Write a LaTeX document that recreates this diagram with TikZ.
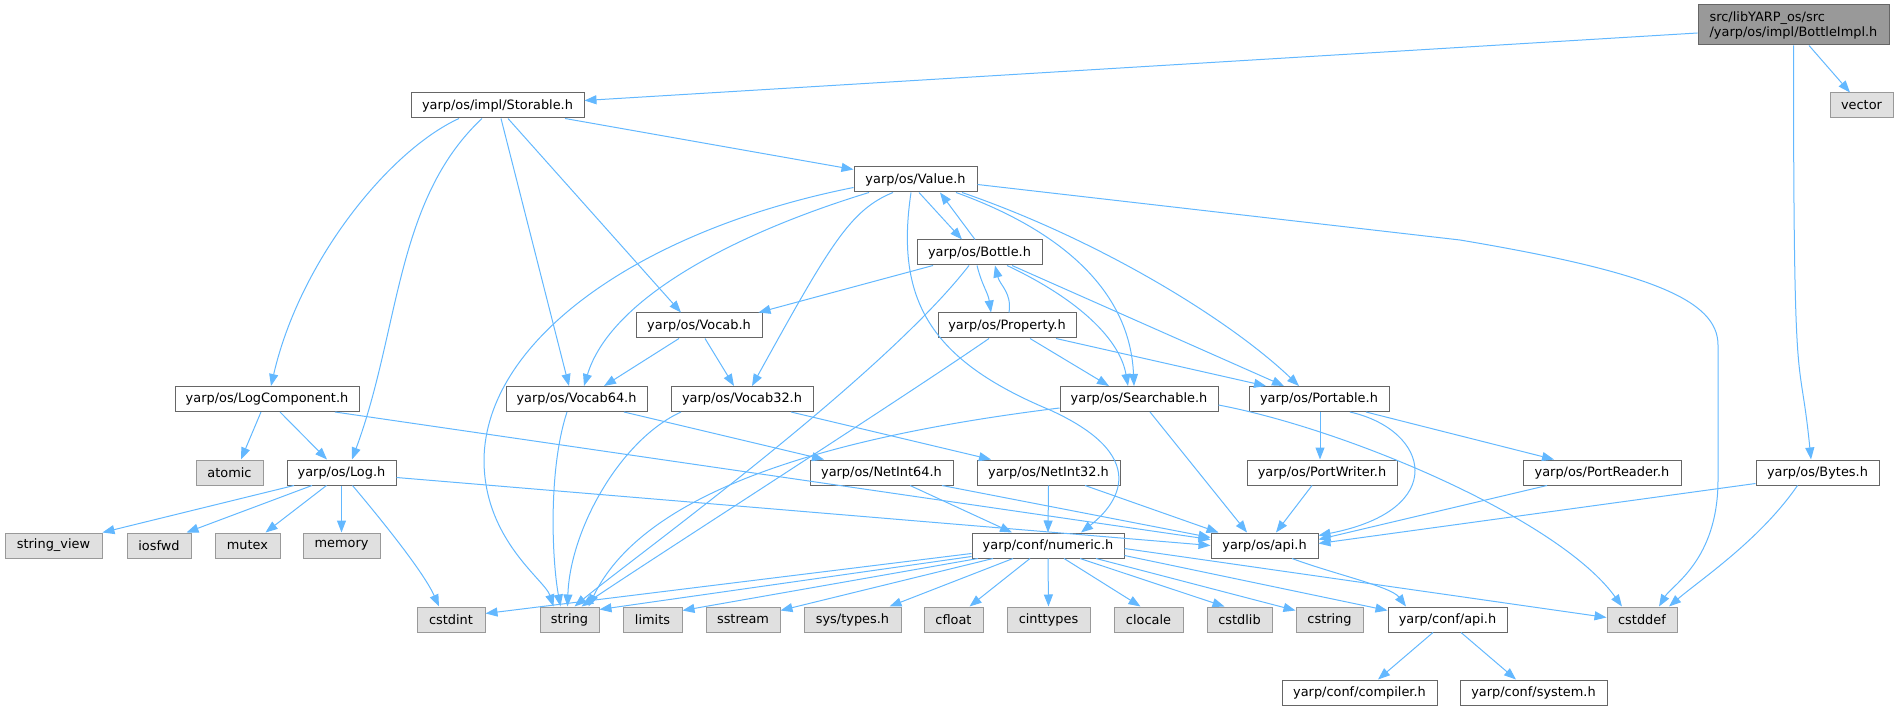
\documentclass[tikz,border=0pt]{standalone}
\usepackage{fontspec}
\setmainfont{DejaVu Sans}
\usetikzlibrary{calc,arrows.meta}
\definecolor{incblue}{HTML}{63B8FF}
\definecolor{grey40}{HTML}{666666}
\definecolor{grey60}{HTML}{999999}
\definecolor{grey88}{HTML}{E0E0E0}
\tikzset{
	box/.style={draw, line width=1pt, minimum height=25, inner sep=0pt, font=\fontsize{12.9}{15}\selectfont},
	hdr/.style={box, draw=grey40, fill=white},
	ext/.style={box, draw=grey60, fill=grey88},
	mainbox/.style={box, draw=grey40, fill=grey60, minimum height=40, align=left},
	inc/.style={draw=incblue, line width=1pt, -{Triangle[length=12pt,width=9pt]}}
}

\begin{document}
\begin{tikzpicture}[x=1pt, y=-1pt]
			%%%%% START %%%%%
			\useasboundingbox (0,0) rectangle (1899,711);
			
			\node[mainbox, minimum width=191] (bottleimpl) at (1793.5,25) {src/libYARP\_os/src\\/yarp/os/impl/BottleImpl.h};
			\node[ext, minimum width=63] (vector) at (1861.5,105.5) {vector};
			\node[hdr, minimum width=173] (storable) at (497.5,105.5) {yarp/os/impl/Storable.h};
			\node[hdr, minimum width=123] (value) at (915.5,179.5) {yarp/os/Value.h};
			\node[hdr, minimum width=125] (bottle) at (979.5,252.5) {yarp/os/Bottle.h};
			\node[hdr, minimum width=126] (vocab) at (699,325.5) {yarp/os/Vocab.h};
			\node[hdr, minimum width=138] (property) at (1007,325.5) {yarp/os/Property.h};
			
			\node[hdr, minimum width=184] (logcomp) at (267,399) {yarp/os/LogComponent.h};
			\node[hdr, minimum width=141] (vocab64) at (576.5,399) {yarp/os/Vocab64.h};
			\node[hdr, minimum width=142] (vocab32) at (742,399) {yarp/os/Vocab32.h};
			\node[hdr, minimum width=158] (searchable) at (1139,399) {yarp/os/Searchable.h};
			\node[hdr, minimum width=140] (portable) at (1319,399) {yarp/os/Portable.h};
			
			\node[ext, minimum width=67] (atomic) at (229.5,472.5) {atomic};
			\node[hdr, minimum width=109] (log) at (341.5,472.5) {yarp/os/Log.h};
			\node[hdr, minimum width=143] (netint64) at (881.5,472.5) {yarp/os/NetInt64.h};
			\node[hdr, minimum width=143] (netint32) at (1048.5,472.5) {yarp/os/NetInt32.h};
			\node[hdr, minimum width=150] (portwriter) at (1322,472.5) {yarp/os/PortWriter.h};
			\node[hdr, minimum width=158] (portreader) at (1602,472.5) {yarp/os/PortReader.h};
			\node[hdr, minimum width=123] (bytes) at (1817.5,472.5) {yarp/os/Bytes.h};
			
			\node[ext, minimum width=97] (stringview) at (53.5,545.5) {string\_view};
			\node[ext, minimum width=64] (iosfwd) at (159,545.5) {iosfwd};
			\node[ext, minimum width=65] (mutex) at (247.5,545.5) {mutex};
			\node[ext, minimum width=77] (memory) at (341.5,545.5) {memory};
			\node[hdr, minimum width=152] (numeric) at (1048,545.5) {yarp/conf/numeric.h};
			\node[hdr, minimum width=107] (osapi) at (1264.5,545.5) {yarp/os/api.h};
			
			\node[ext, minimum width=68] (cstdint) at (451,619.5) {cstdint};
			\node[ext, minimum width=59] (string) at (569.5,619.5) {string};
			\node[ext, minimum width=59] (limits) at (652.5,619.5) {limits};
			\node[ext, minimum width=74] (sstream) at (743,619.5) {sstream};
			\node[ext, minimum width=97] (systypes) at (852.5,619.5) {sys/types.h};
			\node[ext, minimum width=59] (cfloat) at (953.5,619.5) {cfloat};
			\node[ext, minimum width=83] (cinttypes) at (1048.5,619.5) {cinttypes};
			\node[ext, minimum width=69] (clocale) at (1148.5,619.5) {clocale};
			\node[ext, minimum width=65] (cstdlib) at (1239.5,619.5) {cstdlib};
			\node[ext, minimum width=67] (cstring) at (1329.5,619.5) {cstring};
			\node[hdr, minimum width=119] (confapi) at (1447.5,619.5) {yarp/conf/api.h};
			\node[ext, minimum width=70] (cstddef) at (1642,619.5) {cstddef};
			
			\node[hdr, minimum width=155] (compiler) at (1359.5,692.5) {yarp/conf/compiler.h};
			\node[hdr, minimum width=147] (system) at (1533.5,692.5) {yarp/conf/system.h};
			
			% BottleImpl.h
			\draw[inc] ($(bottleimpl.west)+(0,8)$) -- ($(storable.east)+(0,-5)$);
			\draw[inc] ($(bottleimpl.south)+(15.5,0)$) -- ($(vector.north)+(-11.5,0)$);
			\draw[inc] (bottleimpl.south) .. controls +(0,380) and +(-12,-120) .. ($(bytes.north)+(-6.5,0)$);
			
			% Storable.h
			\draw[inc] ($(storable.south)+(-38.5,0)$) .. controls (390,150) and (300,260) .. ($(logcomp.north)+(4,0)$);
			\draw[inc] ($(storable.south)+(-15.5,0)$) .. controls (395,200) and (400,330) .. ($(log.north)+(10.5,0)$);
			\draw[inc] ($(storable.south)+(3.5,0)$) -- ($(vocab64.north)+(-7.5,0)$);
			\draw[inc] ($(storable.south)+(10.5,0)$) -- ($(vocab.north)+(-18,0)$);
			\draw[inc] ($(storable.south)+(67.5,0)$) -- ($(value.north west)+(0,3)$);
			
			% Value.h
			\draw[inc] ($(value.west)+(0,8)$) .. controls (640,230) and (485,340) .. (484,460) .. controls (484,540) and (545,580) .. ($(string.north)+(-16,0)$);
			\draw[inc] ($(value.south)+(-46.5,0)$) .. controls (730,235) and (610,300) .. ($(vocab64.north)+(7.5,0)$);
			\draw[inc] ($(value.south)+(-22.5,0)$) .. controls (850,210) and (830,245) .. ($(vocab32.north)+(10,0)$);
			\draw[inc] ($(value.south)+(-4.5,0)$) .. controls (895,300) and (930,360) .. (1050,410) .. controls (1160,460) and (1110,510) .. ($(numeric.north)+(33,0)$);
			\draw[inc] ($(value.south)+(3.5,0)$) -- ($(bottle.north)+(-17.5,0)$);
			\draw[inc] ($(value.south)+(40.5,0)$) .. controls (1060,230) and (1130,290) .. ($(searchable.north)+(-5,0)$);
			\draw[inc] ($(value.south)+(46.5,0)$) .. controls (1100,240) and (1230,320) .. ($(portable.north)+(-20,0)$);
			\draw[inc] ($(value.east)+(0,5)$) -- (1460,240) .. controls (1650,272) and (1718,300) .. (1718,345) -- (1718,480) .. controls (1718,560) and (1672,585) .. ($(cstddef.north)+(17,0)$);
			
			% Bottle.h
			\draw[inc] ($(bottle.north)+(-4.5,0)$) -- ($(value.south)+(24.5,0)$);
			\draw[inc] ($(bottle.south)+(-46.5,0)$) -- ($(vocab.north east)+(-4,0)$);
			\draw[inc] ($(bottle.south)+(-2.5,0)$) .. controls +(5,20) and +(-3,-20) .. ($(property.north)+(-16,0)$);
			\draw[inc] ($(bottle.south)+(-10.5,0)$) .. controls (880,380) and (630,560) .. ($(string.north)+(5,0)$);
			\draw[inc] ($(bottle.south)+(27.5,0)$) .. controls (1080,300) and (1120,340) .. ($(searchable.north)+(-11,0)$);
			\draw[inc] ($(bottle.south)+(32.5,0)$) -- ($(portable.north)+(-35,0)$);
			
			% Property.h
			\draw[inc] ($(property.north)+(2,0)$) .. controls +(3,-20) and +(5,20) .. ($(bottle.south)+(15.5,0)$);
			\draw[inc] ($(property.south)+(-18,0)$) .. controls (900,400) and (650,560) .. ($(string.north)+(12,0)$);
			\draw[inc] ($(property.south)+(23,0)$) -- ($(searchable.north)+(-30,0)$);
			\draw[inc] ($(property.south)+(49,0)$) -- ($(portable.north)+(-53,0)$);
			
			% Vocab.h
			\draw[inc] ($(vocab.south)+(-20,0)$) -- ($(vocab64.north)+(27.5,0)$);
			\draw[inc] ($(vocab.south)+(6,0)$) -- ($(vocab32.north)+(-8,0)$);
			
			% LogComponent.h
			\draw[inc] ($(logcomp.south)+(-6,0)$) -- ($(atomic.north)+(11.5,0)$);
			\draw[inc] ($(logcomp.south)+(13,0)$) -- ($(log.north)+(-14.5,0)$);
			\draw[inc] ($(logcomp.south)+(68,0)$) -- ($(osapi.west)+(0,-6)$);
			
			% Log.h
			\draw[inc] ($(log.south)+(-47.5,0)$) -- (stringview.north east);
			\draw[inc] ($(log.south)+(-29.5,0)$) -- ($(iosfwd.north east)+(-5,0)$);
			\draw[inc] ($(log.south)+(-15,0)$) -- ($(mutex.north)+(18,0)$);
			\draw[inc] (log.south) -- (memory.north);
			\draw[inc] ($(log.south)+(11,0)$) .. controls (390,530) and (425,575) .. ($(cstdint.north)+(-12,0)$);
			\draw[inc] ($(log.east)+(0,5)$) -- ($(osapi.west)+(0,0)$);
			
			% Vocab64.h / Vocab32.h
			\draw[inc] ($(vocab64.south)+(-9.5,0)$) .. controls (548,470) and (552,560) .. ($(string.north)+(-9,0)$);
			\draw[inc] ($(vocab64.south)+(47.5,0)$) -- ($(netint64.north)+(-57.5,0)$);
			\draw[inc] ($(vocab32.south)+(-61,0)$) .. controls (620,440) and (570,530) .. ($(string.north)+(-2,0)$);
			\draw[inc] ($(vocab32.south)+(49,0)$) -- ($(netint32.north)+(-57.5,0)$);
			
			% Searchable.h
			\draw[inc] ($(searchable.west)+(0,9)$) .. controls (800,440) and (640,500) .. ($(string.north)+(19,0)$);
			\draw[inc] ($(searchable.south)+(11,0)$) -- ($(osapi.north)+(-17.5,0)$);
			\draw[inc] ($(searchable.east)+(0,6)$) .. controls (1350,430) and (1560,520) .. ($(cstddef.north)+(-20,0)$);
			
			% Portable.h and friends
			\draw[inc] ($(portable.south)+(1,0)$) -- ($(portwriter.north)+(-2,0)$);
			\draw[inc] ($(portable.south)+(47,0)$) -- ($(portreader.north)+(-48,0)$);
			\draw[inc] ($(portable.south)+(31,0)$) .. controls (1430,430) and (1450,510) .. ($(osapi.north east)+(0,3)$);
			\draw[inc] ($(portwriter.south)+(-10,0)$) -- ($(osapi.north)+(11.5,0)$);
			\draw[inc] ($(portreader.south)+(-55,0)$) -- ($(osapi.east)+(0,-6)$);
			\draw[inc] ($(bytes.south west)+(0,-2)$) -- ($(osapi.east)+(0,-2)$);
			\draw[inc] ($(bytes.south)+(-20,0)$) .. controls (1760,540) and (1700,580) .. ($(cstddef.north)+(27,0)$);
			
			% NetInt64.h / NetInt32.h
			\draw[inc] ($(netint64.south)+(28.5,0)$) -- ($(numeric.north)+(-36,0)$);
			\draw[inc] ($(netint64.south)+(60.5,0)$) -- ($(osapi.west)+(0,-8)$);
			\draw[inc] (netint32.south) -- (numeric.north);
			\draw[inc] ($(netint32.south)+(36.5,0)$) -- ($(osapi.north west)+(8,0)$);
			
			% numeric.h
			\draw[inc] ($(numeric.west)+(0,8)$) -- ($(cstdint.east)+(0,-6)$);
			\draw[inc] ($(numeric.south west)+(0,-2)$) -- ($(string.north east)+(0,3)$);
			\draw[inc] ($(numeric.south)+(-70,0)$) -- ($(limits.north east)+(0,4)$);
			\draw[inc] ($(numeric.south)+(-55,0)$) -- ($(sstream.north east)+(0,4)$);
			\draw[inc] ($(numeric.south)+(-35,0)$) -- ($(systypes.north)+(37,0)$);
			\draw[inc] ($(numeric.south)+(-18,0)$) -- ($(cfloat.north)+(16,0)$);
			\draw[inc] (numeric.south) -- (cinttypes.north);
			\draw[inc] ($(numeric.south)+(16,0)$) -- ($(clocale.north)+(-8,0)$);
			\draw[inc] ($(numeric.south)+(32,0)$) -- ($(cstdlib.north)+(-15,0)$);
			\draw[inc] ($(numeric.south)+(48,0)$) -- ($(cstring.north west)+(0,4)$);
			\draw[inc] ($(numeric.south east)+(0,-3)$) -- ($(confapi.north west)+(0,4)$);
			\draw[inc] ($(numeric.east)+(0,3)$) -- ($(cstddef.west)+(0,-2)$);
			
			% api.h
			\draw[inc] ($(osapi.south)+(27.5,0)$) .. controls +(40,15) and +(-15,-20) .. ($(confapi.north)+(-41.5,0)$);
			\draw[inc] ($(confapi.south)+(-14.5,0)$) -- ($(compiler.north)+(18.5,0)$);
			\draw[inc] ($(confapi.south)+(13.5,0)$) -- ($(system.north)+(-17.5,0)$);
			
			%%%%% END %%%%%
\end{tikzpicture}
\end{document}
